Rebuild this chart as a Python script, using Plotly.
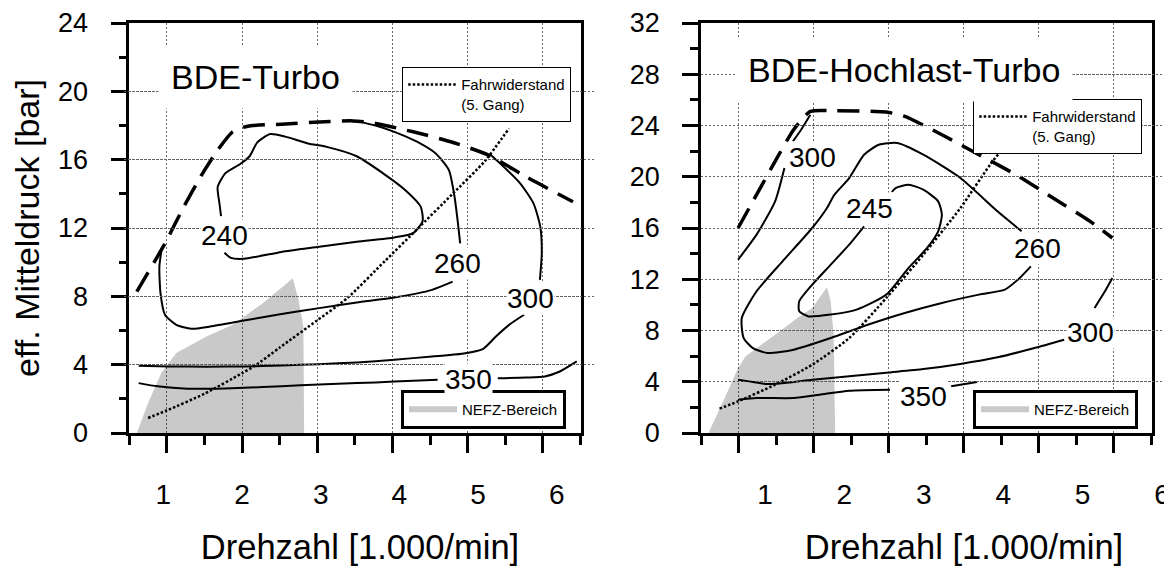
import plotly.graph_objects as go

FONT = "Liberation Sans, Arial, sans-serif"

# ====================== data: left panel (BDE-Turbo) ======================
L_title = "BDE-Turbo"
L_nefz_x = [0.60, 0.75, 0.925, 1.125, 1.525, 1.875, 2.275, 2.675, 2.75, 2.815, 2.825]
L_nefz_y = [0.0, 1.75, 3.51, 4.68, 5.65, 6.33, 7.60, 9.06, 7.79, 6.23, 0.0]

L_full_x = [0.6, 0.975, 1.225, 1.475, 1.675, 1.875, 2.075, 2.525, 3.025, 3.475, 3.775, 4.275, 4.775, 5.275, 5.775, 6.4]
L_full_y = [8.28, 11.1, 13.25, 15.2, 16.56, 17.63, 17.96, 18.08, 18.21, 18.27, 18.12, 17.63, 17.05, 16.27, 15.0, 13.54]

L_road_x = [0.75, 1.0, 1.5, 2.0, 2.175, 2.5, 3.0, 3.4, 3.9, 4.325, 4.8, 5.225, 5.55]
L_road_y = [0.88, 1.32, 2.3, 3.5, 3.95, 5.0, 6.6, 7.9, 10.07, 11.92, 14.0, 15.9, 17.83]

L_c240_x = [1.765, 1.85, 2.025, 2.525, 3.025, 3.525, 4.025, 4.275, 4.4, 4.375, 4.175, 3.875, 3.525, 3.125, 2.875, 2.575, 2.375, 2.2, 2.1, 1.975, 1.775, 1.675, 1.7, 1.72]
L_c240_y = [10.55, 10.25, 10.2, 10.6, 10.9, 11.2, 11.45, 11.7, 12.4, 13.25, 14.2, 15.2, 16.2, 16.75, 16.95, 17.35, 17.5, 17.0, 16.2, 15.75, 15.2, 14.4, 13.4, 12.7]

L_c260a_x = [3.5, 3.775, 4.025, 4.325, 4.575, 4.75, 4.825, 4.865, 4.9]
L_c260a_y = [18.27, 18.0, 17.63, 17.05, 16.36, 15.39, 13.83, 12.47, 11.1]
L_c260b_x = [4.8, 4.525, 4.025, 3.525, 3.025, 2.525, 2.025, 1.575, 1.325, 1.125, 0.975, 0.915, 0.9, 0.935]
L_c260b_y = [8.86, 8.38, 7.93, 7.64, 7.31, 6.97, 6.58, 6.23, 6.1, 6.33, 6.92, 8.18, 9.74, 10.9]

L_c300a_x = [5.3, 5.475, 5.7, 5.875, 5.965, 5.985, 5.96]
L_c300a_y = [16.3, 15.6, 14.6, 13.44, 12.08, 10.52, 8.96]
L_c300b_x = [5.75, 5.55, 5.375, 5.2, 4.925, 4.525, 4.025, 3.525, 3.025, 2.525, 2.025, 1.525, 1.025, 0.625]
L_c300b_y = [6.92, 6.33, 5.65, 4.91, 4.64, 4.48, 4.29, 4.13, 4.03, 3.95, 3.9, 3.88, 3.9, 3.94]

L_c350a_x = [0.625, 0.875, 1.275, 1.775, 2.275, 2.775, 3.275, 3.775, 4.275, 4.6]
L_c350a_y = [2.92, 2.73, 2.59, 2.61, 2.69, 2.79, 2.88, 2.96, 3.06, 3.12]
L_c350b_x = [5.4, 5.775, 6.025, 6.225, 6.45]
L_c350b_y = [3.21, 3.25, 3.31, 3.6, 4.19]

L_lab_text = ["240", "260", "300", "350"]
L_lab_x = [1.76, 4.86, 5.835, 5.01]
L_lab_y = [11.59, 9.9, 7.85, 3.12]

# ====================== data: right panel (BDE-Hochlast-Turbo) ======================
R_title = "BDE-Hochlast-Turbo"
R_nefz_x = [0.599, 0.796, 0.994, 1.092, 1.487, 1.783, 1.98, 2.178, 2.227, 2.267, 2.287]
R_nefz_y = [0.0, 2.47, 5.07, 5.98, 7.67, 8.97, 9.75, 11.37, 10.28, 7.67, 0.0]

R_full_x = [0.994, 1.24, 1.487, 1.734, 1.956, 2.228, 2.968, 3.215, 3.708, 4.202, 4.695, 5.189, 5.683, 5.979]
R_full_y = [16.0, 18.6, 21.2, 23.67, 25.1, 25.16, 25.05, 24.71, 23.28, 21.72, 20.16, 18.34, 16.52, 15.22]

R_road_x = [0.747, 0.994, 1.487, 1.981, 2.474, 2.968, 3.461, 3.955, 4.35, 4.597, 4.745]
R_road_y = [1.9, 2.47, 3.77, 5.33, 7.41, 10.54, 13.92, 17.56, 20.94, 22.76, 23.8]

R_c245_x = [2.672, 2.474, 2.228, 1.981, 1.808, 1.808, 1.931, 2.228, 2.573, 2.968, 3.264, 3.511, 3.659, 3.708, 3.659, 3.461, 3.264, 3.091, 3.042]
R_c245_y = [16.13, 14.7, 13.14, 11.58, 10.28, 9.5, 9.1, 9.24, 9.63, 10.8, 12.88, 14.44, 15.74, 17.04, 18.08, 18.99, 19.38, 19.12, 18.81]

R_c260_x = [4.77, 4.449, 3.955, 3.461, 3.116, 2.869, 2.672, 2.474, 2.277, 2.178, 1.981, 1.586, 1.24, 1.043, 1.068, 1.191, 1.388, 1.734, 2.228, 2.721, 3.215, 3.708, 4.202, 4.547, 4.745, 4.893]
R_c260_y = [15.74, 17.3, 19.9, 21.72, 22.63, 22.5, 21.72, 19.9, 18.6, 17.56, 16.0, 13.4, 11.06, 8.97, 7.41, 6.63, 6.24, 6.5, 7.41, 8.45, 9.37, 10.15, 10.8, 11.19, 12.1, 13.0]

R_c300a_x = [0.994, 1.24, 1.487, 1.611]
R_c300a_y = [13.53, 15.48, 18.08, 20.68]
R_c300b_x = [1.724, 1.833, 1.956]
R_c300b_y = [22.76, 23.67, 24.84]
R_c300c_x = [5.979, 5.88, 5.742]
R_c300c_y = [12.1, 11.06, 9.76]
R_c300d_x = [5.337, 4.942, 4.449, 3.955, 3.461, 2.968, 2.474, 1.981, 1.685, 1.388, 1.142, 0.994]
R_c300d_y = [7.28, 6.63, 5.91, 5.39, 4.99, 4.71, 4.42, 4.16, 3.95, 3.82, 4.03, 4.16]

R_c350a_x = [0.994, 1.24, 1.734, 2.079, 2.474, 3.017]
R_c350a_y = [2.6, 2.73, 2.73, 2.99, 3.3, 3.38]
R_c350b_x = [3.832, 4.177]
R_c350b_y = [3.64, 3.98]

R_lab_text = ["300", "245", "260", "300", "350"]
R_lab_x = [1.99, 2.746, 4.977, 5.683, 3.461]
R_lab_y = [21.54, 17.5, 14.39, 7.88, 2.86]

# ====================== shared text ======================
x_ticks = [1, 2, 3, 4, 5, 6]
x_title = "Drehzahl [1.000/min]"
y_title = "eff. Mitteldruck [bar]"
road_name = "Fahrwiderstand<br>(5. Gang)"
nefz_name = "NEFZ-Bereich"

# ====================== figure ======================
fig = go.Figure()

def contour(x, y, xa, ya):
    fig.add_trace(go.Scatter(x=x, y=y, xaxis=xa, yaxis=ya, mode="lines",
                             line=dict(color="black", width=2, shape="spline", smoothing=0.6),
                             showlegend=False, hoverinfo="skip"))

panels = [
    dict(xa="x", ya="y", xl="x3", leg_r="legend", leg_n="legend2",
         nefz=(L_nefz_x, L_nefz_y), full=(L_full_x, L_full_y), road=(L_road_x, L_road_y),
         cont=[(L_c240_x, L_c240_y), (L_c260a_x, L_c260a_y), (L_c260b_x, L_c260b_y),
               (L_c300a_x, L_c300a_y), (L_c300b_x, L_c300b_y),
               (L_c350a_x, L_c350a_y), (L_c350b_x, L_c350b_y)]),
    dict(xa="x2", ya="y2", xl="x4", leg_r="legend3", leg_n="legend4",
         nefz=(R_nefz_x, R_nefz_y), full=(R_full_x, R_full_y), road=(R_road_x, R_road_y),
         cont=[(R_c245_x, R_c245_y), (R_c260_x, R_c260_y),
               (R_c300a_x, R_c300a_y), (R_c300b_x, R_c300b_y),
               (R_c300c_x, R_c300c_y), (R_c300d_x, R_c300d_y),
               (R_c350a_x, R_c350a_y), (R_c350b_x, R_c350b_y)]),
]

for p in panels:
    fig.add_trace(go.Scatter(x=p["nefz"][0], y=p["nefz"][1], xaxis=p["xa"], yaxis=p["ya"],
                             mode="none", fill="toself", fillcolor="rgba(0,0,0,0.21)",
                             name=nefz_name, legend=p["leg_n"], hoverinfo="skip"))
    for cx, cy in p["cont"]:
        contour(cx, cy, p["xa"], p["ya"])
    fig.add_trace(go.Scatter(x=p["full"][0], y=p["full"][1], xaxis=p["xa"], yaxis=p["ya"],
                             mode="lines", showlegend=False, hoverinfo="skip",
                             line=dict(color="black", width=3.5, dash="22px,11px",
                                       shape="spline", smoothing=0.6)))
    fig.add_trace(go.Scatter(x=p["road"][0], y=p["road"][1], xaxis=p["xa"], yaxis=p["ya"],
                             mode="lines", name=road_name, legend=p["leg_r"], hoverinfo="skip",
                             line=dict(color="black", width=2.5, dash="2.5px,2px",
                                       shape="spline", smoothing=0.6)))
    # carrier for the tick-label axis of the speed scale (draws nothing)
    fig.add_trace(go.Scatter(x=x_ticks, y=[0] * len(x_ticks), xaxis=p["xl"], yaxis=p["ya"],
                             mode="none", showlegend=False, hoverinfo="skip"))

W, H = 1172, 567
OFF = 8  # the page body adds an 8 px margin around the figure

def px_x(a, b):
    return [(a - OFF) / W, (b - OFF) / W]

ydom = [1 - (433 - OFF) / H, 1 - (23 - OFF) / H]

axis_common = dict(showline=True, linewidth=2.5, linecolor="black", mirror=True,
                   ticks="outside", tickwidth=2.5, tickcolor="black",
                   showgrid=True, gridcolor="#666666", gridwidth=1.4, griddash="2px,2px",
                   zeroline=False, layer="above traces")

xmain = dict(axis_common, range=[0.5, 6.5], dtick=1, tick0=0, ticklen=17, showticklabels=False,
             minor=dict(dtick=0.5, tick0=0, ticklen=9, tickwidth=2.5, tickcolor="black",
                        ticks="outside", showgrid=False))

def ymain(rng, anchor, title=None):
    d = dict(axis_common, range=rng, dtick=4, tick0=0, ticklen=16, domain=ydom, anchor=anchor,
             tickfont=dict(size=27, family=FONT, color="black"), ticklabelstandoff=17,
             minor=dict(dtick=2, tick0=0, ticklen=8, tickwidth=2.5, tickcolor="black",
                        ticks="outside", showgrid=False))
    if title:
        d["title"] = dict(text=title, font=dict(size=34, family=FONT, color="black"), standoff=20)
    return d

label_axis = dict(showline=False, ticks="", showgrid=False, zeroline=False,
                  tickmode="array", tickvals=x_ticks, ticktext=[str(v) for v in x_ticks],
                  tickfont=dict(size=28, family=FONT, color="black"), ticklabelstandoff=42,
                  title=dict(text=x_title, font=dict(size=34.5, family=FONT, color="black"), standoff=25))

fig.update_layout(
    width=W, height=H, autosize=False,
    margin=dict(l=0, r=0, t=0, b=0, autoexpand=False),
    paper_bgcolor="white", plot_bgcolor="rgba(0,0,0,0)",
    font=dict(family=FONT, color="black"),
    xaxis=dict(xmain, domain=px_x(129.3, 580.5), anchor="y"),
    yaxis=ymain([0, 24], "x", y_title),
    xaxis2=dict(xmain, domain=px_x(701, 1151.5), anchor="y2"),
    yaxis2=ymain([0, 32], "x2"),
    xaxis3=dict(label_axis, domain=px_x(124, 596), range=[0.5, 6.5], anchor="y"),
    xaxis4=dict(label_axis, domain=px_x(756, 1172), range=[0.8867, 6.126], anchor="y2"),
)

def legend_box(x_px, y_px, bw):
    return dict(x=(x_px - OFF) / W, y=1 - (y_px - OFF) / H, xanchor="left", yanchor="top",
                bgcolor="white", bordercolor="black", borderwidth=bw,
                font=dict(size=15, family=FONT, color="black"),
                itemwidth=48, valign="top", tracegroupgap=0)

fig.update_layout(
    legend=legend_box(402, 67, 1.2),
    legend2=legend_box(401, 390, 3),
    legend3=legend_box(973, 99, 1.2),
    legend4=legend_box(973, 390, 3),
)

ann = []
ann.append(dict(x=2.175, y=20.85, xref="x", yref="y", text=L_title, showarrow=False,
                font=dict(size=34, family=FONT, color="black"), bgcolor="white", borderpad=12))
ann.append(dict(x=3.21, y=28.3, xref="x2", yref="y2", text=R_title, showarrow=False,
                font=dict(size=34, family=FONT, color="black"), bgcolor="white", borderpad=12))
for t, x, y in zip(L_lab_text, L_lab_x, L_lab_y):
    ann.append(dict(x=x, y=y, xref="x", yref="y", text=t, showarrow=False,
                    font=dict(size=28, family=FONT, color="black"), bgcolor="white", borderpad=0))
for t, x, y in zip(R_lab_text, R_lab_x, R_lab_y):
    ann.append(dict(x=x, y=y, xref="x2", yref="y2", text=t, showarrow=False,
                    font=dict(size=28, family=FONT, color="black"), bgcolor="white", borderpad=0))
fig.update_layout(annotations=ann)

fig.write_html("out.html")
